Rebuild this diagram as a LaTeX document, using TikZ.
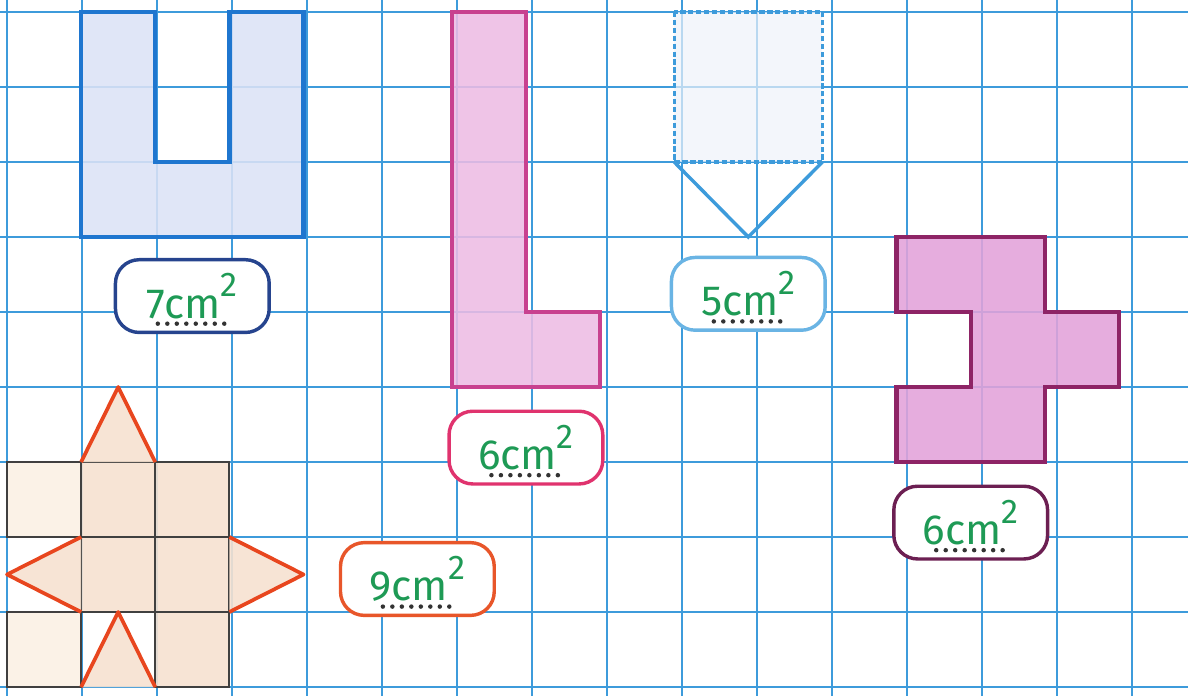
\documentclass[tikz,border=0pt]{standalone}
\usepackage{fontspec}
\setmainfont{Fira Sans}
\usepackage{tikz}
\usetikzlibrary{positioning}

\definecolor{gridblue}{HTML}{3D9BDB}
\definecolor{inkgreen}{HTML}{1E9A55}
\definecolor{ublue}{HTML}{1F76CF}
\definecolor{ufill}{HTML}{DCE2F6}
\definecolor{lpink}{HTML}{C8418F}
\definecolor{lfill}{HTML}{EDBCE4}
\definecolor{pfill}{HTML}{EEF2FA}
\definecolor{tpurple}{HTML}{8E2466}
\definecolor{tfill}{HTML}{E3A2D9}
\definecolor{sfill}{HTML}{F6E1D0}
\definecolor{spale}{HTML}{FBF1E4}
\definecolor{sred}{HTML}{E8461E}
\definecolor{bnavy}{HTML}{26448E}
\definecolor{bpink}{HTML}{E0336E}
\definecolor{bsky}{HTML}{6AB4E4}
\definecolor{bplum}{HTML}{6C1F52}
\definecolor{borange}{HTML}{E8562A}

\begin{document}
\begin{tikzpicture}[x=0.9884cm, node distance = 0.28cm,
gridline/.style={draw=gridblue, line width=1pt},
outline/.style={line width=1.6pt, line join=miter},
area/.style={draw, rounded corners=9pt, line width=1.3pt, fill=white,
  minimum width=2.05cm, minimum height=0.97cm, inner sep=0pt,
  text=inkgreen, font=\fontsize{16}{18}\selectfont},
blank/.style={draw=black!80, line width=1.7pt, line cap=round, dash pattern=on 0pt off 3.6pt},
starsq/.style={fill=sfill, fill opacity=0.9, draw=black!75, draw opacity=1, line width=0.8pt},
startri/.style={fill=sfill, fill opacity=0.9, draw=sred, draw opacity=1, line width=1.4pt, line join=round}]
\def\sqcm#1{#1cm\raisebox{8pt}{\fontsize{13}{15}\selectfont 2}}

\useasboundingbox (-0.0944,0.16) rectangle (15.931,-9.12);
\draw[gridline] (-0.0944,0.16) grid (15.931,-9.12);

% U shape
\filldraw[outline, fill=ufill, fill opacity=0.88, draw=ublue, draw opacity=1]
  (1,0) -- (2,0) -- (2,-2) -- (3,-2) -- (3,0) -- (4,0) -- (4,-3) -- (1,-3) -- cycle;
\coordinate (Ubot) at (2.5,-3);

% L shape
\filldraw[outline, fill=lfill, fill opacity=0.88, draw=lpink, draw opacity=1]
  (6,0) -- (7,0) -- (7,-4) -- (8,-4) -- (8,-5) -- (6,-5) -- cycle;
\coordinate (Lbot) at (7,-5);

% pentagon
\filldraw[fill=pfill, fill opacity=0.7, draw=gridblue, draw opacity=1, line width=1.2pt,
  dash pattern=on 2pt off 1pt] (9,0) rectangle (11,-2);
\draw[draw=gridblue, line width=1.3pt] (9,-2) -- (10,-3) -- (11,-2);
\coordinate (Ptip) at (10,-3);

% step shape
\filldraw[outline, fill=tfill, fill opacity=0.88, draw=tpurple, draw opacity=1]
  (12,-3) -- (14,-3) -- (14,-4) -- (15,-4) -- (15,-5) -- (14,-5) -- (14,-6) -- (12,-6)
  -- (12,-5) -- (13,-5) -- (13,-4) -- (12,-4) -- cycle;
\coordinate (Tbot) at (13,-6);

% star
\foreach \x/\y in {1/6,2/6,1/7,2/7,2/8}
  \draw[starsq] (\x,-\y) rectangle ++(1,-1);
\foreach \x/\y in {0/6,0/8}
  \draw[starsq, fill=spale] (\x,-\y) rectangle ++(1,-1);
\draw[startri] (1,-6) -- (1.5,-5) -- (2,-6);
\draw[startri] (1,-7) -- (0,-7.5) -- (1,-8);
\draw[startri] (3,-7) -- (4,-7.5) -- (3,-8);
\draw[startri] (1,-9) -- (1.5,-8) -- (2,-9);
\coordinate (Stip) at (4,-7.5);

% labels
\node[area, draw=bnavy] (Ulab) [below=of Ubot] {\sqcm{7}};
\node[area, draw=bpink] (Llab) [below=0.3cm of Lbot] {\sqcm{6}};
\node[area, draw=bsky] (Plab) [below=0.25cm of Ptip] {\sqcm{5}};
\node[area, draw=bplum] (Tlab) [below=0.3cm of Tbot] {\sqcm{6}};
\node[area, draw=borange] (Slab) [right=0.47cm of Stip, yshift=-0.06cm] {\sqcm{9}};

\foreach \n in {Ulab,Llab,Plab,Tlab,Slab}
  \draw[blank] ([xshift=-0.46cm, yshift=0.14cm]\n.south) -- ([xshift=0.46cm, yshift=0.14cm]\n.south);
\end{tikzpicture}
\end{document}
